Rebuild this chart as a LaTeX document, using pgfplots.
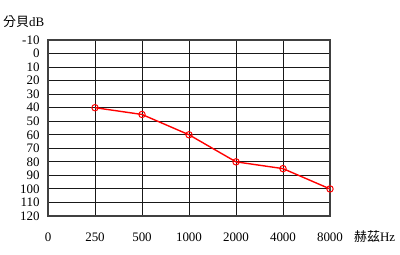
\documentclass[border=0pt]{standalone}
\usepackage{pgfplots}
\pgfplotsset{compat=1.18}
\usepackage{fontspec}
\setmainfont{Liberation Serif}
\newfontfamily\cjk{Noto Sans CJK TC}
\begin{document}
\begin{tikzpicture}[x=1bp,y=1bp]
\useasboundingbox (0,0) rectangle (400,255);
\begin{axis}[
 at={(48bp,39bp)}, anchor=south west,
 scale only axis, width=282bp, height=176bp,
 xmin=0, xmax=6, ymin=-10, ymax=120, y dir=reverse,
 xtick={0,...,6}, xticklabels={0,250,500,1000,2000,4000,8000},
 ytick={-10,0,...,120},
 grid=major, major grid style={black!90, line width=1pt},
 axis line style={black!75, line width=1.3pt},
 tick style={draw=none},
 tick label style={font=\fontsize{13}{13}\selectfont},
 /pgf/number format/assume math mode=true,
 xticklabel style={yshift=-13bp},
 yticklabel style={xshift=-5bp},
 clip=false,
]
\addplot[red, line width=1.4pt, mark=o, mark size=3.2bp, mark options={line width=1pt}]
 coordinates {(1,40) (2,45) (3,60) (4,80) (5,85) (6,100)};
\end{axis}
\node[anchor=west, inner sep=0pt, font=\fontsize{13}{13}\selectfont] at (3,233) {{\cjk 分貝}dB};
\node[anchor=west, inner sep=0pt, font=\fontsize{13}{13}\selectfont] at (354,18) {{\cjk 赫茲}Hz};
\end{tikzpicture}
\end{document}
